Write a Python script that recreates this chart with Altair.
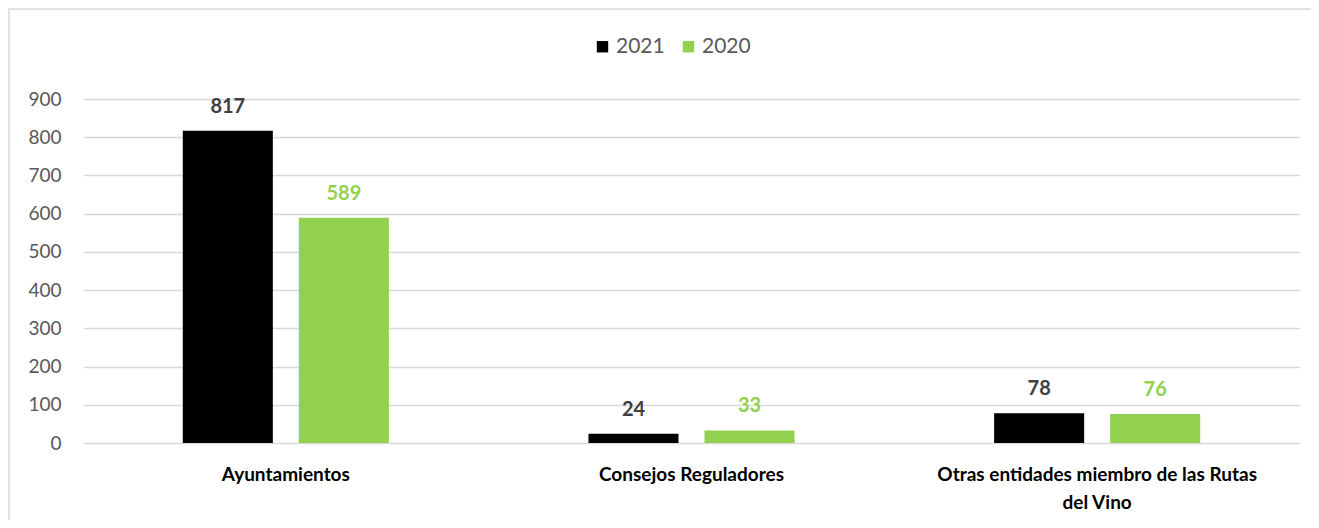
import altair as alt
import pandas as pd

categories = ["Ayuntamientos", "Consejos Reguladores", "Otras entidades miembro de las Rutas del Vino"]
years = ["2021", "2020"]
values_2021 = [817, 24, 78]
values_2020 = [589, 33, 76]
colors = ["#000000", "#92d050"]
label_colors = ["#404040", "#92d050"]

rows = []
for c, v21, v20 in zip(categories, values_2021, values_2020):
    rows.append({"categoria": c, "año": "2021", "valor": v21})
    rows.append({"categoria": c, "año": "2020", "valor": v20})
df = pd.DataFrame(rows)

FONT = "Lato"

x_enc = alt.X(
    "categoria:N",
    sort=categories,
    title=None,
    scale=alt.Scale(paddingInner=0.492, paddingOuter=0.246),
    axis=alt.Axis(
        labelAngle=0,
        labelFont=FONT,
        labelFontSize=19,
        labelFontWeight="bold",
        labelColor="#000000",
        labelPadding=22,
        labelLineHeight=28,
        labelLimit=600,
        ticks=False,
        domain=False,
        grid=False,
        labelExpr="datum.value == 'Otras entidades miembro de las Rutas del Vino' ? ['Otras entidades miembro de las Rutas', 'del Vino'] : datum.value",
    ),
)
xoff = alt.XOffset("año:N", sort=years, scale=alt.Scale(paddingInner=0.224, paddingOuter=0))
y_enc = alt.Y(
    "valor:Q",
    title=None,
    scale=alt.Scale(domain=[0, 900]),
    axis=alt.Axis(
        values=list(range(0, 1000, 100)),
        labelFont=FONT,
        labelFontSize=19,
        labelColor="#595959",
        labelPadding=22,
        labelOverlap=False,
        ticks=False,
        domain=False,
        gridColor="#d9d9d9",
        gridWidth=1.5,
    ),
)

border = alt.Chart(pd.DataFrame({"b": [0]})).mark_rect(
    fill=None, stroke="#d9d9d9", strokeWidth=1.5
).encode(
    x=alt.value(-74), x2=alt.value(1260), y=alt.value(-90), y2=alt.value(520)
)

bars = alt.Chart(df).mark_bar().encode(
    x=x_enc,
    xOffset=xoff,
    y=y_enc,
    color=alt.Color(
        "año:N",
        sort=years,
        scale=alt.Scale(domain=years, range=colors),
        legend=alt.Legend(
            title=None,
            orient="none",
            direction="horizontal",
            legendX=509,
            legendY=-63,
            symbolType="square",
            symbolSize=130,
            symbolStrokeWidth=0,
            labelFont=FONT,
            labelFontSize=21,
            labelColor="#595959",
            columnPadding=13,
            labelOffset=3,
        ),
    ),
)

labels = alt.Chart(df).mark_text(dy=-24, font=FONT, fontSize=20, fontWeight="bold").encode(
    x=x_enc,
    xOffset=xoff,
    y=y_enc,
    text=alt.Text("valor:Q"),
    color=alt.Color("año:N", sort=years, scale=alt.Scale(domain=years, range=label_colors), legend=None),
)

chart = (
    alt.layer(border, bars, labels)
    .resolve_scale(color="independent")
    .properties(
        width=1217,
        height=344,
        autosize=alt.AutoSizeParams(type="none"),
        padding={"left": 75, "top": 91, "right": 11, "bottom": 77},
        view=alt.ViewBackground(stroke="transparent", strokeWidth=0),
    )
    .configure_view(stroke="transparent", strokeWidth=0)
    .configure_axis(domain=False)
    .configure_axisX(grid=False, gridOpacity=0)
    .configure(background="#ffffff")
)

chart.save("out.html", embed_options={"renderer": "svg", "actions": False})
